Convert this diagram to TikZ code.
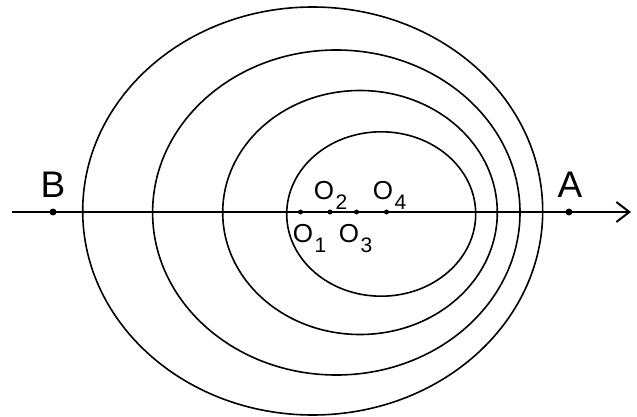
\documentclass[tikz,border=0pt]{standalone}
\usepackage{fontspec}
\setmainfont{Liberation Sans}
\usetikzlibrary{arrows.meta,positioning,calc}

\newcommand{\Olbl}[1]{{\fontsize{26}{26}\selectfont O}\kern1.5pt\raisebox{-10pt}{\fontsize{21}{21}\selectfont #1}}

\begin{document}
\begin{tikzpicture}[
  x=1pt,y=-1pt,
  line width=1.6pt,
  dot/.style={circle,fill=black,inner sep=0pt,minimum size=7pt},
  sdot/.style={circle,fill=black,inner sep=0pt,minimum size=5pt},
  big/.style={inner sep=0pt,anchor=base,font=\fontsize{37}{37}\selectfont},
  olab/.style={inner sep=0pt,anchor=base west}]
  \useasboundingbox (0,0) rectangle (637,417);
  % ellipses: center x / x radius / y radius
  \foreach \cx/\cy/\rx/\ry in {312.7/211/230/204,336.3/212.5/183.7/162.5,360/212.5/137.3/122,381.2/214/94.5/82.2}
    \draw (\cx,\cy) ellipse [x radius=\rx pt,y radius=\ry pt];
  \coordinate(start) at(12,212);
  \coordinate(end) at(631,212);
  \draw[-{Straight Barb[length=13pt,width=20pt,line width=2pt]}](start)--(end);
  \node[dot](B) at(53,212){};
  \node[dot](A) at(569,212){};
  \node[sdot](O1) at(300.5,212){};
  \node[sdot](O2) at(330,212){};
  \node[sdot](O3) at(356.5,212){};
  \node[sdot](O4) at(386.5,212){};
  \node[big](lB) at(53,197){B};
  \node[big](lA) at(570,197){A};
  \node[olab](l1) at(292,242){\Olbl{1}};
  \node[olab](l2) at(313,199){\Olbl{2}};
  \node[olab](l3) at(338,242){\Olbl{3}};
  \node[olab](l4) at(372,199){\Olbl{4}};
\end{tikzpicture}
\end{document}
